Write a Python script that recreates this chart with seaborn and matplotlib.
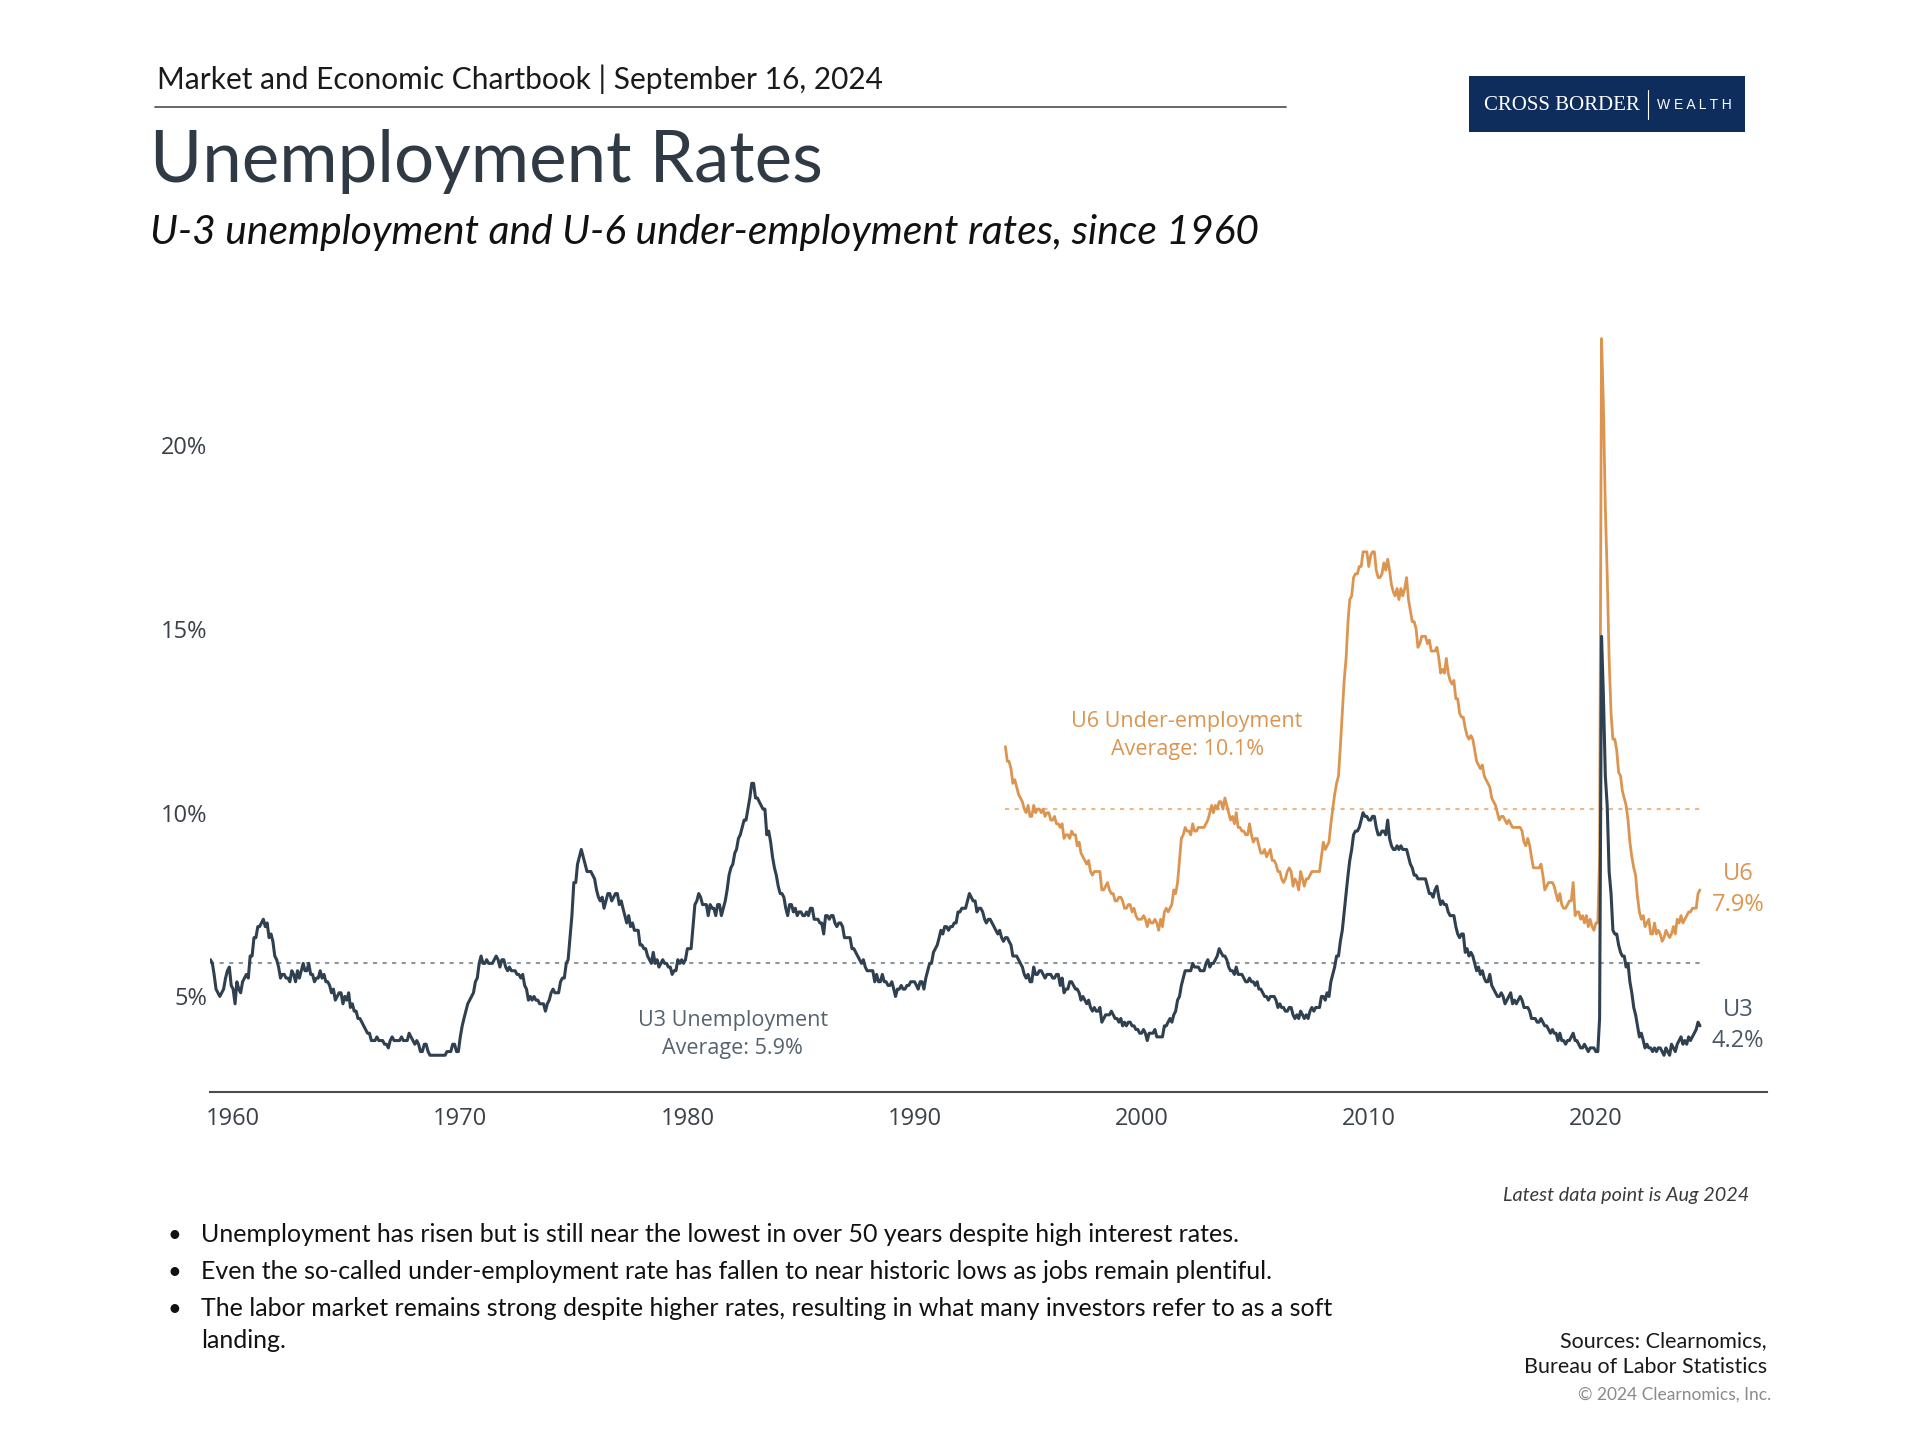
import matplotlib
matplotlib.use("Agg")
import matplotlib.pyplot as plt
from matplotlib.patches import Rectangle
from matplotlib.lines import Line2D
import pandas as pd
import seaborn as sns

# U-3 unemployment rate, monthly, Jan 1959 - Aug 2024 (%)
u3_rate = [
    6.0, 5.9, 5.6, 5.2, 5.1, 5.0, 5.1, 5.2, 5.5, 5.7, 5.8, 5.3,  # 1959
    5.2, 4.8, 5.4, 5.2, 5.1, 5.4, 5.5, 5.6, 5.5, 6.1, 6.1, 6.6,  # 1960
    6.6, 6.9, 6.9, 7.0, 7.1, 6.9, 7.0, 6.6, 6.7, 6.5, 6.1, 6.0,  # 1961
    5.8, 5.5, 5.6, 5.6, 5.5, 5.5, 5.4, 5.7, 5.6, 5.4, 5.7, 5.5,  # 1962
    5.7, 5.9, 5.7, 5.7, 5.9, 5.6, 5.6, 5.4, 5.5, 5.5, 5.7, 5.5,  # 1963
    5.6, 5.4, 5.4, 5.3, 5.1, 5.2, 4.9, 5.0, 5.1, 5.1, 4.8, 5.0,  # 1964
    4.9, 5.1, 4.7, 4.8, 4.6, 4.6, 4.4, 4.4, 4.3, 4.2, 4.1, 4.0,  # 1965
    4.0, 3.8, 3.8, 3.8, 3.9, 3.8, 3.8, 3.8, 3.7, 3.7, 3.6, 3.8,  # 1966
    3.9, 3.8, 3.8, 3.8, 3.8, 3.9, 3.8, 3.8, 3.8, 4.0, 3.9, 3.8,  # 1967
    3.7, 3.8, 3.7, 3.5, 3.5, 3.7, 3.7, 3.5, 3.4, 3.4, 3.4, 3.4,  # 1968
    3.4, 3.4, 3.4, 3.4, 3.4, 3.5, 3.5, 3.5, 3.7, 3.7, 3.5, 3.5,  # 1969
    3.9, 4.2, 4.4, 4.6, 4.8, 4.9, 5.0, 5.1, 5.4, 5.5, 5.9, 6.1,  # 1970
    5.9, 5.9, 6.0, 5.9, 5.9, 5.9, 6.0, 6.1, 6.0, 5.8, 6.0, 6.0,  # 1971
    5.8, 5.7, 5.8, 5.7, 5.7, 5.7, 5.6, 5.6, 5.5, 5.6, 5.3, 5.2,  # 1972
    4.9, 5.0, 4.9, 5.0, 4.9, 4.9, 4.8, 4.8, 4.8, 4.6, 4.8, 4.9,  # 1973
    5.1, 5.2, 5.1, 5.1, 5.1, 5.4, 5.5, 5.5, 5.9, 6.0, 6.6, 7.2,  # 1974
    8.1, 8.1, 8.6, 8.8, 9.0, 8.8, 8.6, 8.4, 8.4, 8.4, 8.3, 8.2,  # 1975
    7.9, 7.7, 7.6, 7.7, 7.4, 7.6, 7.8, 7.8, 7.6, 7.7, 7.8, 7.8,  # 1976
    7.5, 7.6, 7.4, 7.2, 7.0, 7.2, 6.9, 7.0, 6.8, 6.8, 6.8, 6.4,  # 1977
    6.4, 6.3, 6.3, 6.1, 6.0, 5.9, 6.2, 5.9, 6.0, 5.8, 5.9, 6.0,  # 1978
    5.9, 5.9, 5.8, 5.8, 5.6, 5.7, 5.7, 6.0, 5.9, 6.0, 5.9, 6.0,  # 1979
    6.3, 6.3, 6.3, 6.9, 7.5, 7.6, 7.8, 7.7, 7.5, 7.5, 7.5, 7.2,  # 1980
    7.5, 7.4, 7.4, 7.2, 7.5, 7.5, 7.2, 7.4, 7.6, 7.9, 8.3, 8.5,  # 1981
    8.6, 8.9, 9.0, 9.3, 9.4, 9.6, 9.8, 9.8, 10.1, 10.4, 10.8, 10.8,  # 1982
    10.4, 10.4, 10.3, 10.2, 10.1, 10.1, 9.4, 9.5, 9.2, 8.8, 8.5, 8.3,  # 1983
    8.0, 7.8, 7.8, 7.7, 7.4, 7.2, 7.5, 7.5, 7.3, 7.4, 7.2, 7.3,  # 1984
    7.3, 7.2, 7.2, 7.3, 7.2, 7.4, 7.4, 7.1, 7.1, 7.1, 7.0, 7.0,  # 1985
    6.7, 7.2, 7.2, 7.1, 7.2, 7.2, 7.0, 6.9, 7.0, 7.0, 6.9, 6.6,  # 1986
    6.6, 6.6, 6.6, 6.3, 6.3, 6.2, 6.1, 6.0, 5.9, 6.0, 5.8, 5.7,  # 1987
    5.7, 5.7, 5.7, 5.4, 5.6, 5.4, 5.4, 5.6, 5.4, 5.4, 5.3, 5.3,  # 1988
    5.4, 5.2, 5.0, 5.2, 5.2, 5.3, 5.2, 5.2, 5.3, 5.3, 5.4, 5.4,  # 1989
    5.4, 5.3, 5.2, 5.4, 5.4, 5.2, 5.5, 5.7, 5.9, 5.9, 6.2, 6.3,  # 1990
    6.4, 6.6, 6.8, 6.7, 6.9, 6.9, 6.8, 6.9, 6.9, 7.0, 7.0, 7.3,  # 1991
    7.3, 7.4, 7.4, 7.4, 7.6, 7.8, 7.7, 7.6, 7.6, 7.3, 7.4, 7.4,  # 1992
    7.3, 7.1, 7.0, 7.1, 7.1, 7.0, 6.9, 6.8, 6.7, 6.8, 6.6, 6.5,  # 1993
    6.6, 6.6, 6.5, 6.4, 6.1, 6.1, 6.1, 6.0, 5.9, 5.8, 5.6, 5.5,  # 1994
    5.6, 5.4, 5.4, 5.8, 5.6, 5.6, 5.7, 5.7, 5.6, 5.5, 5.6, 5.6,  # 1995
    5.6, 5.5, 5.5, 5.6, 5.6, 5.3, 5.5, 5.1, 5.2, 5.2, 5.4, 5.4,  # 1996
    5.3, 5.2, 5.2, 5.1, 4.9, 5.0, 4.9, 4.8, 4.9, 4.7, 4.6, 4.7,  # 1997
    4.6, 4.6, 4.7, 4.3, 4.4, 4.5, 4.5, 4.5, 4.6, 4.5, 4.4, 4.4,  # 1998
    4.3, 4.4, 4.2, 4.3, 4.2, 4.3, 4.3, 4.2, 4.2, 4.1, 4.1, 4.0,  # 1999
    4.0, 4.1, 4.0, 3.8, 4.0, 4.0, 4.0, 4.1, 3.9, 3.9, 3.9, 3.9,  # 2000
    4.2, 4.2, 4.3, 4.4, 4.3, 4.5, 4.6, 4.9, 5.0, 5.3, 5.5, 5.7,  # 2001
    5.7, 5.7, 5.7, 5.9, 5.8, 5.8, 5.8, 5.7, 5.7, 5.7, 5.9, 6.0,  # 2002
    5.8, 5.9, 5.9, 6.0, 6.1, 6.3, 6.2, 6.1, 6.1, 6.0, 5.8, 5.7,  # 2003
    5.7, 5.6, 5.8, 5.6, 5.6, 5.6, 5.5, 5.4, 5.4, 5.5, 5.4, 5.4,  # 2004
    5.3, 5.4, 5.2, 5.2, 5.1, 5.0, 5.0, 4.9, 5.0, 5.0, 5.0, 4.9,  # 2005
    4.7, 4.8, 4.7, 4.7, 4.6, 4.6, 4.7, 4.7, 4.5, 4.4, 4.5, 4.4,  # 2006
    4.6, 4.5, 4.4, 4.5, 4.4, 4.6, 4.7, 4.6, 4.7, 4.7, 4.7, 5.0,  # 2007
    5.0, 4.9, 5.1, 5.0, 5.4, 5.6, 5.8, 6.1, 6.1, 6.5, 6.8, 7.3,  # 2008
    7.8, 8.3, 8.7, 9.0, 9.4, 9.5, 9.5, 9.6, 9.8, 10.0, 9.9, 9.9,  # 2009
    9.8, 9.8, 9.9, 9.9, 9.6, 9.4, 9.4, 9.5, 9.5, 9.4, 9.8, 9.3,  # 2010
    9.1, 9.0, 9.0, 9.1, 9.0, 9.1, 9.0, 9.0, 9.0, 8.8, 8.6, 8.5,  # 2011
    8.3, 8.3, 8.2, 8.2, 8.2, 8.2, 8.2, 8.0, 7.8, 7.8, 7.7, 7.9,  # 2012
    8.0, 7.7, 7.5, 7.6, 7.5, 7.5, 7.3, 7.2, 7.2, 7.2, 6.9, 6.7,  # 2013
    6.6, 6.7, 6.7, 6.2, 6.3, 6.1, 6.2, 6.1, 5.9, 5.7, 5.8, 5.6,  # 2014
    5.7, 5.5, 5.4, 5.4, 5.6, 5.3, 5.2, 5.1, 5.0, 5.0, 5.1, 5.0,  # 2015
    4.8, 4.9, 5.0, 5.1, 4.8, 4.9, 4.8, 4.9, 5.0, 4.9, 4.7, 4.7,  # 2016
    4.7, 4.6, 4.4, 4.4, 4.4, 4.3, 4.3, 4.4, 4.3, 4.2, 4.2, 4.1,  # 2017
    4.0, 4.1, 4.0, 4.0, 3.8, 4.0, 3.8, 3.8, 3.7, 3.8, 3.8, 3.9,  # 2018
    4.0, 3.8, 3.8, 3.7, 3.6, 3.6, 3.7, 3.6, 3.5, 3.6, 3.6, 3.6,  # 2019
    3.5, 3.5, 4.4, 14.8, 13.2, 11.0, 10.2, 8.4, 7.8, 6.8, 6.7, 6.7,  # 2020
    6.4, 6.2, 6.1, 6.1, 5.8, 5.9, 5.4, 5.1, 4.7, 4.5, 4.2, 3.9,  # 2021
    4.0, 3.8, 3.6, 3.7, 3.6, 3.6, 3.5, 3.6, 3.5, 3.6, 3.6, 3.5,  # 2022
    3.4, 3.6, 3.5, 3.4, 3.7, 3.6, 3.5, 3.7, 3.8, 3.9, 3.7, 3.8,  # 2023
    3.7, 3.9, 3.8, 3.9, 4.0, 4.1, 4.3, 4.2,                      # 2024
]

# U-6 under-employment rate, monthly, Jan 1994 - Aug 2024 (%)
u6_rate = [
    11.8, 11.4, 11.4, 11.2, 10.8, 10.9, 10.7, 10.5, 10.4, 10.3, 10.1, 10.0,  # 1994
    10.2, 9.9, 9.9, 10.2, 10.0, 10.1, 10.1, 10.0, 10.1, 9.9, 10.0, 10.0,  # 1995
    9.8, 9.8, 9.9, 9.7, 9.7, 9.6, 9.7, 9.3, 9.4, 9.4, 9.3, 9.5,  # 1996
    9.4, 9.4, 9.1, 9.2, 8.9, 8.8, 8.7, 8.6, 8.7, 8.4, 8.3, 8.4,  # 1997
    8.4, 8.4, 8.4, 7.9, 7.9, 8.0, 8.1, 7.9, 7.8, 7.8, 7.6, 7.6,  # 1998
    7.7, 7.7, 7.6, 7.4, 7.4, 7.5, 7.5, 7.3, 7.4, 7.2, 7.1, 7.1,  # 1999
    7.1, 7.2, 7.1, 6.9, 7.1, 7.0, 7.0, 7.1, 7.0, 6.8, 7.1, 6.9,  # 2000
    7.3, 7.4, 7.3, 7.4, 7.5, 7.9, 7.8, 8.1, 8.7, 9.3, 9.4, 9.6,  # 2001
    9.5, 9.5, 9.4, 9.7, 9.5, 9.5, 9.6, 9.6, 9.6, 9.6, 9.7, 9.8,  # 2002
    10.0, 10.2, 10.0, 10.2, 10.1, 10.3, 10.3, 10.1, 10.4, 10.2, 10.0, 9.8,  # 2003
    9.9, 9.7, 10.0, 9.6, 9.6, 9.5, 9.5, 9.4, 9.4, 9.7, 9.4, 9.2,  # 2004
    9.3, 9.3, 9.1, 8.9, 8.9, 9.0, 8.8, 8.9, 9.0, 8.7, 8.7, 8.6,  # 2005
    8.4, 8.4, 8.2, 8.1, 8.2, 8.4, 8.5, 8.4, 8.0, 8.2, 8.1, 7.9,  # 2006
    8.4, 8.2, 8.0, 8.2, 8.2, 8.3, 8.4, 8.4, 8.4, 8.4, 8.4, 8.8,  # 2007
    9.2, 9.0, 9.1, 9.2, 9.7, 10.1, 10.5, 10.8, 11.0, 11.8, 12.7, 13.6,  # 2008
    14.2, 15.2, 15.8, 15.9, 16.4, 16.5, 16.5, 16.7, 16.7, 17.1, 17.1, 17.1,  # 2009
    16.7, 17.0, 17.1, 17.1, 16.6, 16.4, 16.4, 16.5, 16.8, 16.6, 16.9, 16.6,  # 2010
    16.2, 16.0, 15.9, 16.1, 15.8, 16.1, 15.9, 16.1, 16.4, 15.8, 15.5, 15.2,  # 2011
    15.2, 15.0, 14.5, 14.6, 14.8, 14.8, 14.8, 14.6, 14.7, 14.4, 14.4, 14.4,  # 2012
    14.5, 14.2, 13.8, 13.9, 13.8, 14.2, 13.8, 13.6, 13.5, 13.6, 13.1, 13.1,  # 2013
    12.7, 12.6, 12.6, 12.3, 12.1, 12.0, 12.1, 12.0, 11.7, 11.4, 11.3, 11.2,  # 2014
    11.3, 11.0, 10.9, 10.8, 10.7, 10.4, 10.3, 10.2, 10.0, 9.8, 9.9, 9.9,  # 2015
    9.8, 9.7, 9.8, 9.7, 9.6, 9.6, 9.6, 9.6, 9.6, 9.5, 9.2, 9.1,  # 2016
    9.3, 9.1, 8.8, 8.5, 8.5, 8.5, 8.5, 8.6, 8.3, 7.9, 8.0, 8.1,  # 2017
    8.1, 8.1, 8.0, 7.8, 7.6, 7.8, 7.5, 7.4, 7.4, 7.5, 7.6, 7.6,  # 2018
    8.1, 7.2, 7.3, 7.3, 7.1, 7.2, 7.0, 7.2, 6.9, 7.1, 6.9, 6.8,  # 2019
    7.0, 7.0, 8.8, 22.9, 21.1, 18.3, 16.5, 14.2, 12.7, 12.0, 12.0, 11.7,  # 2020
    11.1, 11.0, 10.6, 10.4, 10.2, 9.8, 9.2, 8.8, 8.5, 8.3, 7.7, 7.3,  # 2021
    7.1, 7.2, 6.9, 7.0, 7.1, 6.7, 6.7, 7.0, 6.7, 6.8, 6.7, 6.5,  # 2022
    6.6, 6.8, 6.7, 6.6, 6.7, 6.9, 6.7, 7.1, 7.0, 7.2, 7.0, 7.1,  # 2023
    7.2, 7.3, 7.3, 7.4, 7.4, 7.4, 7.8, 7.9,                      # 2024
]

u3_start = '1959-01-01'
u6_start = '1994-01-01'
u3_avg = 5.9
u6_avg = 10.1
year_ticks = [1960, 1970, 1980, 1990, 2000, 2010, 2020]
pct_ticks = [5, 10, 15, 20]

bullets = [
    'Unemployment has risen but is still near the lowest in over 50 years despite high interest rates.',
    'Even the so-called under-employment rate has fallen to near historic lows as jobs remain plentiful.',
    'The labor market remains strong despite higher rates, resulting in what many investors refer to as a soft\nlanding.',
]

U3_COLOR = '#2f4050'
U6_COLOR = '#dc9550'
U3_AVG_COLOR = '#8e969e'
U6_AVG_COLOR = '#ebb985'
TEXT_DARK = '#2f3a45'

u3 = pd.DataFrame({'date': pd.date_range(u3_start, periods=len(u3_rate), freq='MS'), 'rate': u3_rate})
u6 = pd.DataFrame({'date': pd.date_range(u6_start, periods=len(u6_rate), freq='MS'), 'rate': u6_rate})

sns.set_style('white')
plt.rcParams['font.family'] = ['Lato', 'DejaVu Sans']
CHART_FONT = ['Open Sans', 'DejaVu Sans']

W, H = 1920, 1440
fig = plt.figure(figsize=(19.2, 14.4), dpi=100)


def px(x, y):
    return x / W, 1 - y / H


# plot area
ax = fig.add_axes([210 / W, 1 - 1092 / H, (1767 - 210) / W, (1092 - 335) / H])

sns.lineplot(data=u6, x='date', y='rate', ax=ax, color=U6_COLOR, linewidth=2.0, estimator=None)
sns.lineplot(data=u3, x='date', y='rate', ax=ax, color=U3_COLOR, linewidth=2.2, estimator=None)

ax.hlines(u3_avg, u3['date'].iloc[0], u3['date'].iloc[-1], colors=U3_AVG_COLOR,
          linestyles=(0, (2, 2.6)), linewidth=1.5, zorder=1)
ax.hlines(u6_avg, u6['date'].iloc[0], u6['date'].iloc[-1], colors=U6_AVG_COLOR,
          linestyles=(0, (2, 2.6)), linewidth=1.5, zorder=1)

ax.set_xlim(pd.Timestamp('1958-12-25'), pd.Timestamp('2027-07-15'))
ax.set_ylim(2.4, 23.0)
ax.set_xticks([pd.Timestamp(f'{y}-01-01') for y in year_ticks])
ax.set_xticklabels([str(y) for y in year_ticks])
ax.set_yticks(pct_ticks)
ax.set_yticklabels([f'{p}%' for p in pct_ticks])
ax.set_xlabel('')
ax.set_ylabel('')
ax.tick_params(axis='both', length=0, labelsize=17, labelcolor='#3a4148')
ax.tick_params(axis='x', pad=11)
ax.tick_params(axis='y', pad=2)
for lab in ax.get_xticklabels() + ax.get_yticklabels():
    lab.set_fontfamily(CHART_FONT)
for s in ['left', 'top', 'right']:
    ax.spines[s].set_visible(False)
ax.spines['bottom'].set_color('#4d4d4d')
ax.spines['bottom'].set_linewidth(1.5)
ax.patch.set_alpha(0)

# series annotations
ax.text(pd.Timestamp('1982-01-01'), 3.97, 'U3 Unemployment\nAverage: 5.9%', ha='center', va='center',
        fontsize=15.5, color='#56636f', linespacing=1.45, family=CHART_FONT)
ax.text(pd.Timestamp('2002-01-01'), 12.11, 'U6 Under-employment\nAverage: 10.1%', ha='center', va='center',
        fontsize=15.5, color=U6_COLOR, linespacing=1.45, family=CHART_FONT)
last_u6 = u6['rate'].iloc[-1]
last_u3 = u3['rate'].iloc[-1]
ax.text(pd.Timestamp('2026-04-01'), last_u6, f'U6\n{last_u6:.1f}%', ha='center', va='center',
        fontsize=17, color=U6_COLOR, linespacing=1.4, family=CHART_FONT)
ax.text(pd.Timestamp('2026-04-01'), last_u3, f'U3\n{last_u3:.1f}%', ha='center', va='center',
        fontsize=17, color='#4a5866', linespacing=1.4, family=CHART_FONT)

# header
fig.text(*px(157, 89), 'Market and Economic Chartbook | September 16, 2024', ha='left', va='baseline',
         fontsize=21.5, color='#1a1a1a')
fig.add_artist(Line2D([155 / W, 1286 / W], [1 - 107 / H, 1 - 107 / H], color='#5a5a5a', linewidth=1.3))
fig.text(*px(150, 182), 'Unemployment Rates', ha='left', va='baseline', fontsize=51, color=TEXT_DARK)
fig.text(*px(150, 244), 'U-3 unemployment and U-6 under-employment rates, since 1960', ha='left',
         va='baseline', fontsize=29.3, style='italic', color='#111111')

# logo
fig.add_artist(Rectangle(px(1469, 132), (1745 - 1469) / W, (132 - 76) / H, transform=fig.transFigure,
                         facecolor='#0f2d5c', edgecolor='none'))
fig.text(*px(1484, 105), 'CROSS BORDER', ha='left', va='center', fontsize=15, color='white',
         family=['Liberation Serif', 'DejaVu Serif'])
fig.add_artist(Line2D([1648 / W, 1648 / W], [1 - 90 / H, 1 - 119 / H], color='white', linewidth=0.8))
fig.text(*px(1657, 105), 'W E A L T H', ha='left', va='center', fontsize=10, color='white',
         family=['Liberation Sans', 'DejaVu Sans'])

# footer
fig.text(*px(1749, 1195), 'Latest data point is Aug 2024', ha='right', va='center', fontsize=14.3,
         style='italic', color='#3a3a3a')
line_y = [1242, 1279, 1316]
for yb, txt in zip(line_y, bullets):
    fig.text(*px(168, yb), '\u2022', ha='left', va='baseline', fontsize=17, color='#111111')
    for k, part in enumerate(txt.split('\n')):
        fig.text(*px(201, yb + 32 * k), part, ha='left', va='baseline', fontsize=18, color='#111111')
fig.text(*px(1767, 1347), 'Sources: Clearnomics,', ha='right', va='baseline', fontsize=15.5,
         color='#1a1a1a')
fig.text(*px(1767, 1373), 'Bureau of Labor Statistics', ha='right', va='baseline', fontsize=15.5,
         color='#1a1a1a')
fig.text(*px(1771, 1400), '\u00a9 2024 Clearnomics, Inc.', ha='right', va='baseline', fontsize=12.5,
         color='#8a8a8a')

fig.savefig('out.png', dpi=100)
